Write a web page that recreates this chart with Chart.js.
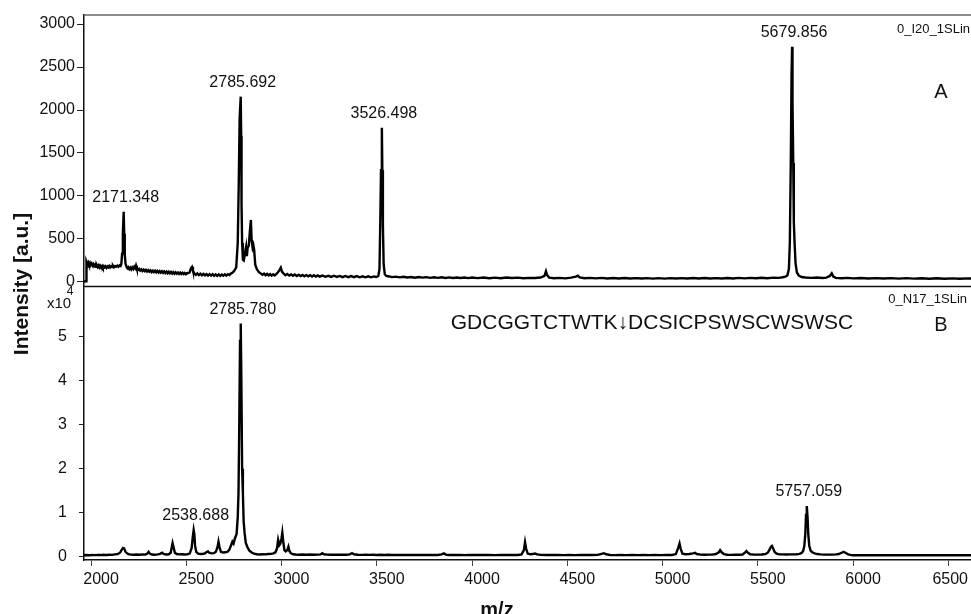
<!DOCTYPE html>
<html>
<head>
<meta charset="utf-8">
<title>MALDI-TOF spectra</title>
<script src="https://cdn.jsdelivr.net/npm/chart.js@4.4.1/dist/chart.umd.min.js"></script>
<style>
html, body { margin: 0; padding: 0; background: #fff; }
#wrap { position: relative; width: 971px; height: 614px; overflow: hidden; }
#wrap canvas { position: absolute; left: 0; top: 0; }
</style>
</head>
<body>
<div id="wrap">
    <canvas id="spec-bottom" width="971" height="614"></canvas>
    <canvas id="spec-top" width="971" height="614"></canvas>
</div>
<script>
const FONT = 'Arial, "Liberation Sans", Helvetica, sans-serif';

// shared m/z axis
const mzMin = 1963;
const mzMax = 6619;
const mzTicks = [2000, 2500, 3000, 3500, 4000, 4500, 5000, 5500, 6000, 6500];

const topTicks = [0, 500, 1000, 1500, 2000, 2500, 3000];
const bottomTicks = [0, 10000, 20000, 30000, 40000, 50000];

// spectrum A (0_I20_1SLin)
const topMz = [
    1962, 1974, 1976, 1980, 1985, 1989, 1994, 1998, 2003, 2008, 2012, 2016, 2021, 2026, 2030, 2035, 2040, 2044, 2048, 2053,
    2058, 2062, 2067, 2072, 2076, 2081, 2086, 2090, 2095, 2100, 2105, 2110, 2115, 2120, 2126, 2132, 2138, 2144, 2150, 2155,
    2159, 2163, 2167, 2171.348, 2174, 2177, 2181, 2186, 2191, 2196, 2201, 2206, 2211, 2216, 2222, 2227, 2232, 2236, 2240, 2246,
    2252, 2258, 2264, 2270, 2276, 2282, 2288, 2294, 2300, 2306, 2312, 2318, 2324, 2330, 2336, 2342, 2348, 2354, 2360, 2366,
    2372, 2378, 2384, 2390, 2396, 2402, 2408, 2414, 2420, 2426, 2432, 2438, 2444, 2450, 2456, 2462, 2468, 2474, 2480, 2486,
    2492, 2498, 2504, 2510, 2518, 2524, 2530, 2535, 2542, 2550, 2558, 2566, 2574, 2582, 2590, 2598, 2606, 2614, 2622, 2630,
    2638, 2646, 2654, 2662, 2670, 2678, 2686, 2694, 2702, 2710, 2718, 2726, 2734, 2742, 2752, 2762, 2770, 2775, 2780, 2785.692,
    2788, 2790, 2793, 2797, 2802, 2808, 2814, 2818, 2822, 2828, 2834, 2839, 2843, 2848, 2852, 2856, 2862, 2870, 2880, 2890,
    2900, 2908, 2916, 2924, 2932, 2940, 2948, 2956, 2964, 2972, 2980, 2990, 2996, 3002, 3010, 3020, 3030, 3040, 3050, 3060,
    3070, 3080, 3090, 3100, 3110, 3120, 3130, 3140, 3150, 3160, 3170, 3180, 3190, 3200, 3215, 3230, 3245, 3260, 3275, 3290,
    3305, 3320, 3335, 3350, 3365, 3380, 3395, 3410, 3425, 3440, 3455, 3470, 3485, 3498, 3508, 3514, 3518, 3522, 3526.498, 3529,
    3532, 3536, 3542, 3550, 3565, 3580, 3600, 3620, 3640, 3660, 3680, 3700, 3720, 3740, 3760, 3780, 3800, 3820, 3840, 3860,
    3880, 3900, 3920, 3940, 3960, 3980, 4000, 4030, 4060, 4090, 4120, 4150, 4180, 4210, 4240, 4270, 4300, 4330, 4360, 4380,
    4388, 4394, 4405, 4430, 4460, 4490, 4520, 4545, 4555, 4565, 4590, 4620, 4650, 4680, 4710, 4740, 4770, 4800, 4830, 4860,
    4890, 4920, 4950, 4980, 5010, 5040, 5070, 5100, 5130, 5160, 5190, 5220, 5250, 5280, 5310, 5340, 5370, 5400, 5430, 5460,
    5490, 5520, 5550, 5580, 5610, 5630, 5645, 5655, 5663, 5668, 5673, 5677, 5679.856, 5682, 5686, 5689, 5693, 5698, 5705, 5715,
    5730, 5750, 5780, 5810, 5840, 5860, 5878, 5888, 5896, 5910, 5940, 5970, 6000, 6040, 6080, 6120, 6160, 6200, 6240, 6280,
    6320, 6360, 6400, 6440, 6480, 6520, 6560, 6600, 6620
];
const topIntensity = [
    5, 8, 236, 212, 230, 204, 222, 196, 214, 190, 206, 184, 201, 176, 196, 174, 192, 170, 188, 168,
    186, 166, 184, 170, 182, 164, 180, 170, 186, 168, 182, 172, 188, 170, 184, 176, 190, 178, 194, 186,
    210, 330, 560, 817, 560, 320, 215, 178, 160, 172, 150, 166, 146, 170, 150, 176, 160, 190, 158, 140,
    152, 132, 146, 128, 144, 126, 140, 122, 138, 120, 134, 116, 132, 114, 130, 112, 128, 110, 126, 108,
    124, 106, 122, 104, 120, 102, 118, 100, 116, 98, 114, 96, 112, 96, 110, 94, 108, 92, 106, 92,
    104, 90, 102, 104, 112, 160, 176, 130, 100, 82, 98, 80, 96, 78, 94, 76, 92, 74, 90, 74,
    90, 72, 88, 72, 88, 70, 86, 72, 88, 74, 90, 80, 98, 108, 130, 170, 453, 1100, 1900, 2155,
    1700, 900, 453, 260, 250, 330, 410, 300, 400, 420, 600, 721, 480, 400, 430, 380, 200, 150, 118, 100,
    84, 98, 78, 94, 76, 92, 74, 90, 76, 92, 110, 140, 165, 120, 100, 78, 92, 74, 88, 72,
    86, 70, 84, 68, 82, 66, 80, 66, 78, 64, 78, 62, 76, 62, 74, 60, 72, 58, 72, 58,
    70, 56, 70, 56, 68, 56, 68, 54, 66, 54, 66, 54, 64, 58, 70, 150, 663, 1300, 1794, 1300,
    663, 200, 90, 70, 64, 56, 62, 54, 60, 52, 58, 50, 57, 50, 56, 48, 55, 48, 54, 47,
    53, 46, 52, 46, 52, 45, 51, 45, 51, 44, 50, 44, 52, 46, 50, 44, 48, 46, 52, 70,
    125, 80, 50, 44, 48, 42, 50, 62, 72, 52, 44, 48, 42, 47, 41, 46, 40, 46, 40, 45,
    40, 45, 39, 44, 39, 44, 40, 45, 40, 46, 41, 46, 40, 45, 40, 46, 41, 47, 42, 48,
    43, 49, 44, 50, 48, 55, 62, 75, 150, 453, 1383, 2400, 2736, 2100, 1383, 700, 453, 220, 110, 75,
    58, 52, 48, 52, 46, 50, 70, 100, 62, 48, 44, 48, 42, 46, 40, 45, 40, 44, 39, 44,
    39, 43, 38, 43, 38, 42, 38, 42, 40
];

// spectrum B (0_N17_1SLin), counts
const bottomMz = [
    1962, 1975, 1990, 2005, 2020, 2035, 2050, 2065, 2080, 2095, 2110, 2125, 2140, 2152, 2160, 2168, 2174, 2180, 2188, 2196,
    2210, 2225, 2240, 2255, 2270, 2285, 2295, 2302, 2308, 2320, 2335, 2350, 2362, 2373, 2380, 2395, 2408, 2418, 2424, 2428,
    2433, 2440, 2450, 2462, 2475, 2490, 2505, 2518, 2528, 2534, 2538.688, 2542, 2546, 2552, 2562, 2575, 2590, 2600, 2608, 2614,
    2620, 2632, 2645, 2655, 2664, 2669, 2675, 2682, 2692, 2705, 2715, 2725, 2735, 2742, 2748, 2754, 2758, 2764, 2770, 2774,
    2778, 2782, 2785.78, 2789, 2793, 2797, 2801, 2806, 2812, 2820, 2830, 2845, 2856, 2870, 2885, 2900, 2915, 2930, 2945, 2958,
    2968, 2976, 2982, 2988, 2994, 3000, 3004, 3009, 3015, 3022, 3030, 3036, 3041, 3048, 3060, 3075, 3090, 3110, 3130, 3150,
    3170, 3190, 3205, 3214, 3222, 3240, 3260, 3280, 3300, 3320, 3340, 3358, 3370, 3380, 3400, 3420, 3440, 3460, 3480, 3500,
    3520, 3540, 3560, 3580, 3600, 3620, 3640, 3660, 3680, 3700, 3720, 3740, 3760, 3780, 3800, 3820, 3840, 3852, 3862, 3880,
    3900, 3920, 3940, 3960, 3980, 4000, 4030, 4060, 4090, 4120, 4150, 4180, 4210, 4240, 4260, 4272, 4278, 4284, 4292, 4305,
    4318, 4330, 4342, 4360, 4390, 4420, 4450, 4480, 4510, 4540, 4570, 4600, 4630, 4660, 4680, 4692, 4704, 4725, 4750, 4780,
    4810, 4840, 4870, 4900, 4930, 4960, 4990, 5020, 5050, 5070, 5082, 5089, 5095, 5104, 5120, 5140, 5160, 5170, 5180, 5200,
    5220, 5240, 5260, 5280, 5295, 5302, 5310, 5322, 5340, 5360, 5380, 5400, 5420, 5432, 5440, 5448, 5460, 5480, 5500, 5520,
    5540, 5552, 5560, 5568, 5574, 5580, 5588, 5598, 5612, 5630, 5650, 5670, 5690, 5705, 5718, 5730, 5738, 5744, 5749, 5753,
    5757.059, 5761, 5765, 5770, 5777, 5786, 5798, 5812, 5830, 5850, 5870, 5890, 5910, 5925, 5940, 5950, 5960, 5972, 5985, 5997,
    6040, 6100, 6200, 6300, 6400, 6500, 6620
];
const bottomIntensity = [
    320, 380, 340, 400, 360, 420, 370, 430, 390, 450, 420, 520, 600, 900, 1500, 2000, 1900, 1200, 800, 600,
    480, 430, 500, 440, 520, 480, 700, 1100, 700, 500, 460, 520, 650, 900, 620, 500, 560, 900, 2200, 3100,
    2200, 900, 600, 520, 560, 500, 560, 700, 2000, 4500, 6060, 5200, 2500, 1100, 700, 620, 680, 800, 1100, 1200,
    900, 760, 800, 1100, 2200, 3400, 2000, 1100, 950, 1000, 1100, 1500, 2600, 3400, 3000, 4000, 4470, 5200, 9000, 14500,
    30000, 49000, 53000, 40000, 20000, 14500, 8000, 5400, 3200, 2270, 1400, 900, 700, 560, 500, 560, 520, 600, 640, 760,
    1000, 1900, 3800, 2600, 3000, 4200, 5450, 3400, 1500, 1200, 1500, 2270, 1300, 800, 560, 500, 460, 500, 450, 490,
    440, 480, 520, 800, 560, 470, 440, 480, 430, 470, 440, 520, 800, 560, 450, 420, 460, 410, 450, 400,
    440, 400, 430, 390, 420, 380, 410, 370, 400, 380, 410, 370, 400, 370, 410, 380, 520, 760, 480, 380,
    410, 370, 400, 360, 400, 370, 410, 370, 400, 360, 400, 370, 410, 390, 520, 1500, 3300, 1800, 700, 560,
    600, 720, 520, 420, 400, 370, 400, 360, 390, 360, 390, 370, 400, 420, 650, 800, 560, 400, 360, 390,
    350, 380, 350, 380, 350, 370, 350, 380, 400, 600, 2000, 3000, 1800, 700, 560, 620, 760, 900, 600, 480,
    440, 470, 480, 600, 1000, 1500, 1000, 600, 450, 420, 440, 430, 500, 900, 1300, 900, 560, 480, 470, 500,
    600, 900, 1500, 2200, 2430, 1900, 1100, 700, 560, 520, 500, 520, 520, 560, 640, 850, 1300, 2400, 5000, 9500,
    11500, 9000, 5000, 2500, 1400, 1000, 760, 600, 520, 480, 470, 480, 520, 600, 900, 1100, 900, 600, 420, 330,
    320, 320, 320, 320, 320, 320, 320
];

const topPeaks = [2171.348, 2785.692, 3526.498, 5679.856];
const bottomPeaks = [2538.688, 2785.780, 5757.059];
const sequence = 'GDCGGTCTWTK\u2193DCSICPSWSCWSWSC';

function toPoints(xs, ys) {
    return xs.map(function (x, i) { return { x: x, y: ys[i] }; });
}

// writes the m/z value above the highest point near each listed peak
function drawPeakLabels(chart, peaks) {
    const ctx = chart.ctx;
    const data = chart.data.datasets[0].data;
    const xs = chart.scales.x;
    const ys = chart.scales.y;
    ctx.save();
    ctx.font = '16px ' + FONT;
    ctx.fillStyle = '#111';
    ctx.textAlign = 'center';
    ctx.textBaseline = 'middle';
    peaks.forEach(function (mz) {
        let top = null;
        data.forEach(function (p) {
            if (Math.abs(p.x - mz) < 15 && (!top || p.y > top.y)) top = p;
        });
        ctx.fillText(mz.toFixed(3), xs.getPixelForValue(mz) + 2, ys.getPixelForValue(top.y) - 14);
    });
    ctx.restore();
}

function hLine(ctx, x1, x2, y, color, width) {
    ctx.save();
    ctx.strokeStyle = color;
    ctx.lineWidth = width;
    ctx.beginPath();
    ctx.moveTo(x1, y);
    ctx.lineTo(x2, y);
    ctx.stroke();
    ctx.restore();
}

const topDecor = {
    id: 'topDecor',
    afterDraw: function (chart) {
        const ctx = chart.ctx;
        const a = chart.chartArea;
        hLine(ctx, a.left, a.right, a.top, '#666', 1.5);
        hLine(ctx, a.left, a.right, a.bottom + 0.5, '#111', 1.5);
        drawPeakLabels(chart, topPeaks);

        ctx.save();
        ctx.fillStyle = '#111';
        ctx.font = '13px ' + FONT;
        ctx.textAlign = 'right';
        ctx.textBaseline = 'middle';
        ctx.fillText('0_I20_1SLin', 970, 29);
        ctx.font = '20px ' + FONT;
        ctx.textAlign = 'center';
        ctx.fillText('A', 941, 92);

        // y title spans both panels
        ctx.translate(22, 284);
        ctx.rotate(-Math.PI / 2);
        ctx.font = 'bold 21px ' + FONT;
        ctx.fillText('Intensity [a.u.]', 0, 0);
        ctx.restore();
    }
};

const bottomDecor = {
    id: 'bottomDecor',
    afterDraw: function (chart) {
        const ctx = chart.ctx;
        const xs = chart.scales.x;
        drawPeakLabels(chart, bottomPeaks);

        ctx.save();
        ctx.fillStyle = '#111';
        ctx.textBaseline = 'middle';

        // m/z tick labels sit a little right of their ticks
        ctx.font = '16px ' + FONT;
        ctx.textAlign = 'center';
        mzTicks.forEach(function (v) {
            const w = ctx.measureText(String(v)).width;
            const x = Math.min(xs.getPixelForValue(v) + 10, 968 - w / 2);
            ctx.fillText(String(v), x, 580);
        });

        ctx.font = 'bold 20px ' + FONT;
        ctx.fillText('m/z', 497, 610);

        ctx.font = '15px ' + FONT;
        ctx.fillText('x10', 59, 304);
        ctx.font = '12px ' + FONT;
        ctx.fillText('4', 70, 292);

        ctx.font = '13px ' + FONT;
        ctx.textAlign = 'right';
        ctx.fillText('0_N17_1SLin', 967, 299);

        ctx.font = '20px ' + FONT;
        ctx.textAlign = 'center';
        ctx.fillText('B', 941, 325);
        ctx.font = '21px ' + FONT;
        ctx.fillText(sequence, 652, 323);
        ctx.restore();
    }
};

const tickFont = { family: FONT, size: 16 };

function plainTick(v) {
    return String(v);
}

new Chart(document.getElementById('spec-top'), {
    type: 'line',
    data: {
        datasets: [{
            data: toPoints(topMz, topIntensity),
            borderColor: '#000',
            borderWidth: 2.4,
            pointRadius: 0,
            tension: 0,
            fill: false
        }]
    },
    options: {
        responsive: false,
        animation: false,
        devicePixelRatio: 1,
        layout: { padding: { left: 0, right: 0, top: 15, bottom: 328 } },
        plugins: { legend: { display: false }, tooltip: { enabled: false } },
        scales: {
            x: { type: 'linear', display: false, min: mzMin, max: mzMax },
            y: {
                min: -47,
                max: 3105,
                afterBuildTicks: function (s) { s.ticks = topTicks.map(function (v) { return { value: v }; }); },
                afterFit: function (s) { s.width = 84; },
                grid: { drawOnChartArea: false, tickLength: 7, color: '#222' },
                border: { display: true, color: '#111', width: 1.5 },
                ticks: { padding: 2, color: '#111', font: tickFont, callback: plainTick }
            }
        }
    },
    plugins: [topDecor]
});

new Chart(document.getElementById('spec-bottom'), {
    type: 'line',
    data: {
        datasets: [{
            data: toPoints(bottomMz, bottomIntensity),
            borderColor: '#000',
            borderWidth: 2.4,
            pointRadius: 0,
            tension: 0,
            fill: false
        }]
    },
    options: {
        responsive: false,
        animation: false,
        devicePixelRatio: 1,
        layout: { padding: { left: 0, right: 0, top: 287, bottom: 0 } },
        plugins: { legend: { display: false }, tooltip: { enabled: false } },
        scales: {
            x: {
                type: 'linear',
                min: mzMin,
                max: mzMax,
                afterBuildTicks: function (s) { s.ticks = mzTicks.map(function (v) { return { value: v }; }); },
                afterFit: function (s) { s.height = 54; },
                grid: { drawOnChartArea: false, tickLength: 6, color: '#444' },
                border: { display: true, color: '#111', width: 1.5 },
                ticks: { display: false }
            },
            y: {
                min: -750,
                max: 61280,
                afterBuildTicks: function (s) { s.ticks = bottomTicks.map(function (v) { return { value: v }; }); },
                afterFit: function (s) { s.width = 84; },
                grid: { drawOnChartArea: false, tickLength: 5, color: '#222' },
                border: { display: true, color: '#111', width: 1.5 },
                ticks: {
                    padding: 12,
                    color: '#111',
                    font: tickFont,
                    callback: function (v) { return String(v / 10000); }
                }
            }
        }
    },
    plugins: [bottomDecor]
});
</script>
</body>
</html>
